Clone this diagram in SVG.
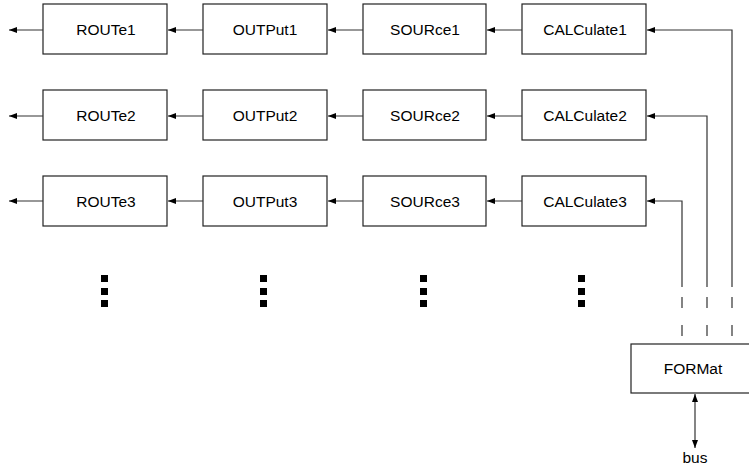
<svg xmlns="http://www.w3.org/2000/svg" width="749" height="467" viewBox="0 0 749 467">
<defs>
<style>
.box{fill:#fff;stroke:#222;stroke-width:1.2}
.lbl{font-family:"Liberation Sans",Arial,Helvetica,sans-serif;font-size:15.5px;fill:#000;text-anchor:middle}
.ln{fill:none;stroke:#333;stroke-width:1.2}
.dot{fill:#000}
</style>
<marker id="ah" viewBox="0 0 8 6" refX="8" refY="3" markerWidth="8" markerHeight="6" markerUnits="userSpaceOnUse" orient="auto-start-reverse">
<path d="M0,0 L8,3 L0,6 Z" fill="#000"/>
</marker>
</defs>
<rect width="749" height="467" fill="#fff"/>
<g id="ROUTe1"><rect class="box" x="43" y="4" width="124" height="50"/><text class="lbl" x="106" y="35">ROUTe1</text></g>
<g id="OUTPut1"><rect class="box" x="203" y="4" width="124" height="50"/><text class="lbl" x="265" y="35">OUTPut1</text></g>
<g id="SOURce1"><rect class="box" x="363" y="4" width="123" height="50"/><text class="lbl" x="425" y="35">SOURce1</text></g>
<g id="CALCulate1"><rect class="box" x="522" y="4" width="124" height="50"/><text class="lbl" x="585" y="35">CALCulate1</text></g>
<g id="ROUTe2"><rect class="box" x="43" y="90" width="124" height="50"/><text class="lbl" x="106" y="121">ROUTe2</text></g>
<g id="OUTPut2"><rect class="box" x="203" y="90" width="124" height="50"/><text class="lbl" x="265" y="121">OUTPut2</text></g>
<g id="SOURce2"><rect class="box" x="363" y="90" width="123" height="50"/><text class="lbl" x="425" y="121">SOURce2</text></g>
<g id="CALCulate2"><rect class="box" x="522" y="90" width="124" height="50"/><text class="lbl" x="585" y="121">CALCulate2</text></g>
<g id="ROUTe3"><rect class="box" x="43" y="176" width="124" height="50"/><text class="lbl" x="106" y="207">ROUTe3</text></g>
<g id="OUTPut3"><rect class="box" x="203" y="176" width="124" height="50"/><text class="lbl" x="265" y="207">OUTPut3</text></g>
<g id="SOURce3"><rect class="box" x="363" y="176" width="123" height="50"/><text class="lbl" x="425" y="207">SOURce3</text></g>
<g id="CALCulate3"><rect class="box" x="522" y="176" width="124" height="50"/><text class="lbl" x="585" y="207">CALCulate3</text></g>
<g id="FORMat"><rect class="box" x="631" y="344" width="124" height="49"/><text class="lbl" x="693" y="374">FORMat</text></g>
<g id="bus"><text class="lbl" x="695" y="463">bus</text></g>
<g id="ellipsis">
<rect class="dot" x="101" y="275" width="7" height="7"/><rect class="dot" x="101" y="288" width="7" height="7"/><rect class="dot" x="101" y="300" width="7" height="7"/>
<rect class="dot" x="260" y="275" width="7" height="7"/><rect class="dot" x="260" y="288" width="7" height="7"/><rect class="dot" x="260" y="300" width="7" height="7"/>
<rect class="dot" x="420" y="275" width="7" height="7"/><rect class="dot" x="420" y="288" width="7" height="7"/><rect class="dot" x="420" y="300" width="7" height="7"/>
<rect class="dot" x="578" y="275" width="7" height="7"/><rect class="dot" x="578" y="288" width="7" height="7"/><rect class="dot" x="578" y="300" width="7" height="7"/>
</g>
<g id="connectors">
<line class="ln" x1="43" y1="30" x2="9" y2="30" marker-end="url(#ah)"/>
<line class="ln" x1="203" y1="30" x2="168" y2="30" marker-end="url(#ah)"/>
<line class="ln" x1="363" y1="30" x2="328" y2="30" marker-end="url(#ah)"/>
<line class="ln" x1="522" y1="30" x2="487" y2="30" marker-end="url(#ah)"/>
<line class="ln" x1="43" y1="116" x2="9" y2="116" marker-end="url(#ah)"/>
<line class="ln" x1="203" y1="116" x2="168" y2="116" marker-end="url(#ah)"/>
<line class="ln" x1="363" y1="116" x2="328" y2="116" marker-end="url(#ah)"/>
<line class="ln" x1="522" y1="116" x2="487" y2="116" marker-end="url(#ah)"/>
<line class="ln" x1="43" y1="201" x2="9" y2="201" marker-end="url(#ah)"/>
<line class="ln" x1="203" y1="201" x2="168" y2="201" marker-end="url(#ah)"/>
<line class="ln" x1="363" y1="201" x2="328" y2="201" marker-end="url(#ah)"/>
<line class="ln" x1="522" y1="201" x2="487" y2="201" marker-end="url(#ah)"/>
<path class="ln" d="M732,287 V30 H647" marker-end="url(#ah)"/>
<path class="ln" d="M707,287 V116 H647" marker-end="url(#ah)"/>
<path class="ln" d="M682,287 V201 H647" marker-end="url(#ah)"/>
<path class="ln" d="M732,297 V308 M732,325 V336 M707,297 V308 M707,325 V336 M682,297 V308 M682,325 V336"/>
<line class="ln" x1="695" y1="394" x2="695" y2="448" marker-start="url(#ah)" marker-end="url(#ah)"/>
</g>
</svg>
